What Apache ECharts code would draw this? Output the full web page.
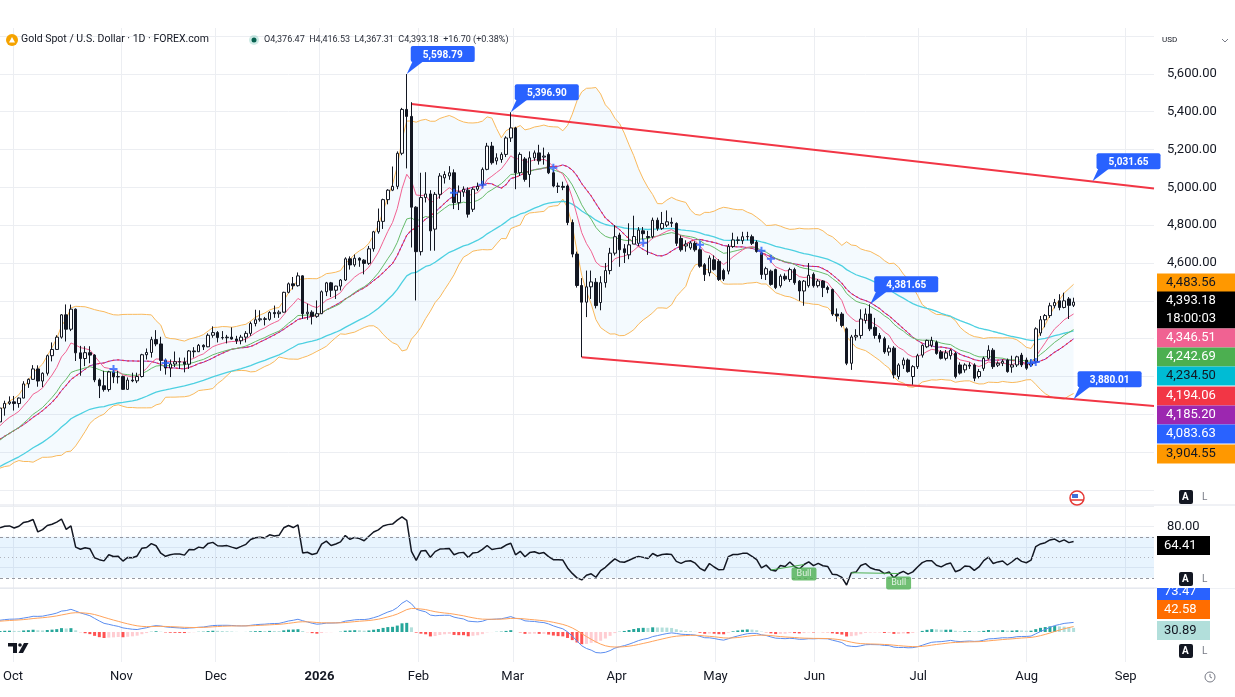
<!DOCTYPE html>
<html lang="en">
<head>
<meta charset="utf-8" />
<title>Gold Spot / U.S. Dollar - 1D</title>
<script src="https://cdn.jsdelivr.net/npm/echarts@6/dist/echarts.min.js"></script>
<style>
  html, body { margin: 0; padding: 0; background: #fff; }
  #chart { width: 1235px; height: 697px; }
</style>
</head>
<body>
<div id="chart"></div>
<script>
// ---------- data ----------
var firstDay = '2025-09-29', lastDay = '2026-09-09';
var holidays = ['2025-12-25', '2026-01-01', '2026-04-03'];
var monthNames = ['Jan', 'Feb', 'Mar', 'Apr', 'May', 'Jun', 'Jul', 'Aug', 'Sep', 'Oct', 'Nov', 'Dec'];

// closes Jul-Sep 2025, off screen, only used so the indicators are warmed up at the left edge
var warmupCloses = [3338, 3357, 3326, 3336, 3302, 3313, 3325, 3355, 3343, 3324, 3347, 3339, 3350, 3397, 3431, 3387, 3368, 3337, 3314, 3326, 3274, 3289,
  3363, 3373, 3380, 3370, 3396, 3398, 3342, 3348, 3356, 3336, 3336, 3332, 3315, 3347, 3339, 3371, 3366, 3393, 3397, 3416, 3448,
  3476, 3533, 3578, 3545, 3587, 3636, 3626, 3641, 3635, 3643, 3679, 3690, 3660, 3644, 3685, 3746, 3763, 3736, 3749, 3760];

// daily candles [open, close, low, high], Sep 29 2025 -> Aug 17 2026
var candles = [
  [3760, 3833, 3758, 3835], [3833, 3858, 3793, 3872], [3858, 3866, 3850, 3895], [3866, 3857, 3820, 3897], [3857, 3886, 3835, 3889],
  [3886, 3961, 3885, 3975], [3961, 3985, 3940, 3990], [3985, 4040, 3983, 4060], [4040, 3976, 3946, 4059], [3976, 4017, 3944, 4022],
  [4017, 4110, 4005, 4116], [4110, 4143, 4080, 4180], [4143, 4208, 4140, 4218], [4208, 4326, 4200, 4330], [4326, 4250, 4185, 4381],
  [4250, 4356, 4240, 4380], [4356, 4125, 4082, 4360], [4125, 4095, 4004, 4162], [4095, 4126, 4055, 4160], [4126, 4113, 4070, 4160],
  [4113, 3982, 3970, 4118], [3982, 3951, 3886, 3990], [3951, 3931, 3920, 4030], [3931, 4024, 3920, 4030], [4024, 3998, 3965, 4034],
  [3998, 4000, 3963, 4030], [4000, 3932, 3930, 4005], [3932, 3981, 3930, 3995], [3981, 3977, 3970, 4020], [3977, 4000, 3965, 4020],
  [4000, 4115, 3995, 4120], [4115, 4127, 4090, 4148], [4127, 4195, 4100, 4210], [4195, 4172, 4160, 4245], [4172, 4085, 4030, 4210],
  [4085, 4045, 4010, 4095], [4045, 4066, 3997, 4090], [4066, 4078, 4050, 4132], [4078, 4077, 4040, 4100], [4077, 4065, 4022, 4100],
  [4065, 4135, 4040, 4140], [4135, 4131, 4100, 4155], [4131, 4165, 4130, 4172], [4165, 4157, 4140, 4170], [4157, 4218, 4155, 4228],
  [4218, 4232, 4205, 4265], [4232, 4206, 4180, 4240], [4206, 4205, 4195, 4240], [4205, 4208, 4175, 4220], [4208, 4198, 4195, 4260],
  [4198, 4189, 4172, 4215], [4189, 4208, 4170, 4220], [4208, 4228, 4180, 4240], [4228, 4280, 4215, 4290], [4280, 4300, 4265, 4353],
  [4300, 4305, 4290, 4350], [4305, 4302, 4270, 4315], [4302, 4338, 4295, 4345], [4338, 4332, 4310, 4375], [4332, 4340, 4310, 4350],
  [4340, 4445, 4338, 4448], [4445, 4490, 4440, 4497], [4490, 4480, 4460, 4526], [4480, 4532, 4475, 4550], [4532, 4332, 4305, 4535],
  [4332, 4340, 4300, 4385], [4340, 4318, 4275, 4350], [4318, 4332, 4310, 4402], [4332, 4448, 4330, 4455], [4448, 4495, 4425, 4500],
  [4495, 4456, 4420, 4500], [4456, 4478, 4410, 4480], [4478, 4510, 4455, 4515], [4510, 4622, 4505, 4630], [4622, 4590, 4565, 4635],
  [4590, 4625, 4580, 4645], [4625, 4615, 4580, 4630], [4615, 4598, 4540, 4620], [4598, 4675, 4590, 4690], [4675, 4765, 4660, 4770],
  [4765, 4820, 4755, 4888], [4820, 4935, 4780, 4940], [4935, 4985, 4910, 4990], [4985, 5005, 4980, 5110], [5005, 5180, 4990, 5190],
  [5180, 5412, 5170, 5420], [5412, 5375, 5100, 5598.79], [5375, 4895, 4682, 5450], [4895, 4660, 4402, 4900], [4660, 4946, 4640, 5077],
  [4946, 4965, 4920, 5080], [4965, 4770, 4665, 4985], [4779, 4963, 4665, 4975], [4963, 5060, 4940, 5075], [5050, 5068, 5020, 5085],
  [5060, 5077, 5040, 5112], [5077, 4919, 4885, 5095], [4919, 4975, 4880, 5010], [4975, 4990, 4950, 5005], [4985, 4858, 4840, 5000],
  [4884, 4990, 4870, 5000], [4990, 5005, 4980, 5025], [5016, 5095, 5005, 5105], [5095, 5218, 5090, 5235], [5218, 5130, 5120, 5240],
  [5140, 5156, 5120, 5180], [5147, 5174, 5130, 5185], [5174, 5261, 5160, 5270], [5261, 5314, 5240, 5396.90], [5314, 5077, 4990, 5320],
  [5077, 5174, 5060, 5185], [5150, 5042, 5030, 5160], [5068, 5156, 5000, 5190], [5156, 5182, 5140, 5195], [5182, 5140, 5120, 5225],
  [5160, 5165, 5120, 5210], [5174, 5077, 5070, 5185], [5077, 5007, 5000, 5090], [5007, 5005, 4970, 5025], [5005, 5000, 4985, 5030],
  [5007, 4814, 4800, 5015], [4814, 4647, 4630, 4830], [4647, 4481, 4470, 4660], [4481, 4393, 4102, 4520], [4393, 4474, 4314, 4560],
  [4474, 4500, 4410, 4560], [4498, 4375, 4360, 4520], [4391, 4496, 4350, 4530], [4496, 4560, 4470, 4600], [4560, 4652, 4540, 4680],
  [4652, 4739, 4640, 4800], [4748, 4670, 4580, 4760], [4675, 4655, 4600, 4700], [4643, 4696, 4620, 4810], [4700, 4740, 4700, 4850],
  [4704, 4774, 4690, 4790], [4770, 4755, 4720, 4790], [4740, 4735, 4643, 4770], [4739, 4826, 4730, 4840], [4826, 4783, 4770, 4840],
  [4783, 4809, 4775, 4870], [4800, 4818, 4790, 4878], [4815, 4810, 4790, 4840], [4809, 4704, 4690, 4815], [4730, 4670, 4660, 4745],
  [4690, 4700, 4660, 4720], [4680, 4706, 4670, 4715], [4704, 4670, 4660, 4715], [4670, 4583, 4575, 4680], [4591, 4539, 4505, 4600],
  [4548, 4626, 4530, 4640], [4617, 4565, 4560, 4640], [4609, 4513, 4505, 4620], [4560, 4515, 4505, 4570], [4557, 4687, 4540, 4700],
  [4687, 4722, 4680, 4760], [4720, 4722, 4700, 4740], [4718, 4739, 4700, 4765], [4739, 4740, 4720, 4765], [4739, 4704, 4695, 4750],
  [4710, 4661, 4655, 4720], [4652, 4539, 4515, 4660], [4540, 4570, 4510, 4580], [4557, 4487, 4480, 4565], [4565, 4470, 4462, 4570],
  [4480, 4530, 4470, 4540], [4530, 4515, 4505, 4545], [4513, 4565, 4500, 4575], [4565, 4496, 4485, 4575], [4504, 4452, 4400, 4510],
  [4452, 4504, 4374, 4510], [4480, 4535, 4470, 4600], [4540, 4480, 4470, 4550], [4480, 4505, 4470, 4515], [4505, 4470, 4420, 4510],
  [4470, 4460, 4440, 4480], [4460, 4330, 4320, 4465], [4330, 4320, 4290, 4360], [4330, 4270, 4260, 4340], [4252, 4070, 4060, 4260],
  [4070, 4209, 4035, 4220], [4209, 4217, 4190, 4250], [4217, 4304, 4200, 4355], [4296, 4330, 4280, 4360], [4330, 4252, 4240, 4381.65],
  [4260, 4217, 4200, 4310], [4217, 4200, 4180, 4230], [4200, 4130, 4120, 4210], [4130, 4150, 4110, 4165], [4150, 4009, 3990, 4160],
  [4000, 4061, 3985, 4070], [4061, 4087, 4040, 4100], [4087, 4026, 4020, 4095], [4000, 4052, 3957, 4060], [4052, 4110, 4040, 4120],
  [4113, 4165, 4100, 4170], [4157, 4191, 4150, 4195], [4165, 4191, 4155, 4210], [4180, 4122, 4115, 4190], [4130, 4096, 4090, 4140],
  [4096, 4125, 4085, 4140], [4110, 4139, 4090, 4145], [4122, 4000, 3990, 4130], [4061, 4018, 4010, 4075], [4035, 4061, 4020, 4070],
  [4060, 4055, 4040, 4075], [4061, 3991, 3975, 4070], [4000, 4026, 3990, 4040], [4043, 4096, 4030, 4105], [4096, 4139, 4090, 4165],
  [4139, 4052, 4040, 4150], [4060, 4070, 4050, 4080], [4070, 4080, 4055, 4090], [4087, 4026, 4020, 4095], [4050, 4061, 4020, 4110],
  [4061, 4104, 4050, 4110], [4113, 4061, 4050, 4125], [4087, 4044, 4035, 4100], [4060, 4070, 4050, 4090], [4078, 4252, 4070, 4260],
  [4230, 4300, 4215, 4320], [4300, 4322, 4260, 4330], [4322, 4374, 4310, 4390], [4374, 4391, 4360, 4410], [4400, 4365, 4350, 4435],
  [4365, 4400, 4360, 4443], [4410, 4376, 4304, 4420], [4376.47, 4393.18, 4367.31, 4416.53]
];

// descending channel, [day index, price] at both ends
var channelUpper = [[87, 5440], [244, 4994]];
var channelLower = [[123, 4102], [244, 3844]];

// blue price notes
var noteIdx = [86, 108, 184, 231, 227];
var notePrice = [5598.79, 5396.90, 4381.65, 5031.65, 3880.01];
var noteText = ['5,598.79', '5,396.90', '4,381.65', '5,031.65', '3,880.01'];

// blue cross markers
var crossIdx = [24, 35, 96, 102, 117, 136, 148, 161, 163, 218, 219];
var crossPrice = [4040, 4072, 4971, 5014, 5104, 4707, 4696, 4665, 4622, 4072, 4077];

// RSI bullish divergences, [from index, to index]
var bullDiv = [[163, 170], [180, 190]];

// price-scale badges
var badgeText = ['4,483.56', '4,393.18', '4,346.51', '4,242.69', '4,234.50', '4,194.06', '4,185.20', '4,083.63', '3,904.55'];
var badgeBg = ['#ff9800', '#000000', '#f06292', '#4caf50', '#00bcd4', '#f23645', '#9c27b0', '#2962ff', '#ff9800'];
var badgeFg = ['#131722', '#ffffff', '#ffffff', '#ffffff', '#131722', '#ffffff', '#ffffff', '#ffffff', '#131722'];
var badgeY = [283, 301, 338, 357, 376, 396, 415, 434, 454];

// ---------- categories ----------
var days = [];
(function () {
  var d = new Date(firstDay + 'T00:00:00Z'), end = new Date(lastDay + 'T00:00:00Z');
  while (d <= end) {
    var s = d.toISOString().slice(0, 10), wd = d.getUTCDay();
    if (wd !== 0 && wd !== 6 && holidays.indexOf(s) < 0) days.push(s);
    d.setUTCDate(d.getUTCDate() + 1);
  }
})();
function isMonthStart(i) { return i > 0 && days[i].slice(5, 7) !== days[i - 1].slice(5, 7); }
function monthLabel(i) {
  var m = +days[i].slice(5, 7) - 1;
  return m === 0 ? '{y|' + days[i].slice(0, 4) + '}' : monthNames[m];
}

// ---------- indicators ----------
function sma(src, n) {
  var out = [], sum = 0;
  for (var i = 0; i < src.length; i++) {
    sum += src[i];
    if (i >= n) sum -= src[i - n];
    out.push(i >= n - 1 ? sum / n : null);
  }
  return out;
}
function ema(src, n) {
  var out = [], k = 2 / (n + 1), prev = null, sum = 0, cnt = 0;
  for (var i = 0; i < src.length; i++) {
    if (src[i] == null) { out.push(null); continue; }
    if (prev === null) {
      sum += src[i]; cnt++;
      if (cnt === n) prev = sum / n;
      out.push(prev);
    } else {
      prev = src[i] * k + prev * (1 - k);
      out.push(prev);
    }
  }
  return out;
}
function stdev(src, n, mean) {
  return src.map(function (v, i) {
    if (mean[i] == null) return null;
    var s = 0;
    for (var j = i - n + 1; j <= i; j++) s += (src[j] - mean[i]) * (src[j] - mean[i]);
    return Math.sqrt(s / n);
  });
}
function rsiCalc(src, n) {
  var out = [null], up = 0, dn = 0;
  for (var i = 1; i < src.length; i++) {
    var ch = src[i] - src[i - 1], g = Math.max(ch, 0), l = Math.max(-ch, 0);
    if (i <= n) { up += g / n; dn += l / n; out.push(i === n ? 100 - 100 / (1 + up / dn) : null); }
    else { up = (up * (n - 1) + g) / n; dn = (dn * (n - 1) + l) / n; out.push(dn === 0 ? 100 : 100 - 100 / (1 + up / dn)); }
  }
  return out;
}

var W = warmupCloses.length;
var closes = warmupCloses.concat(candles.map(function (c) { return c[1]; }));
function cut(a) { return a.slice(W).map(function (v) { return v == null ? null : +v.toFixed(2); }); }

var basis = sma(closes, 20), dev = stdev(closes, 20, basis);
var bbBasis = cut(basis);
var bbUpper = cut(basis.map(function (b, i) { return b == null ? null : b + 2 * dev[i]; }));
var bbLower = cut(basis.map(function (b, i) { return b == null ? null : b - 2 * dev[i]; }));
var bbWidth = bbUpper.map(function (u, i) { return +(u - bbLower[i]).toFixed(2); });
var ema9 = cut(ema(closes, 9)), ema20 = cut(ema(closes, 20)), ema50 = cut(ema(closes, 50));
var rsi = cut(rsiCalc(closes, 14));
var e12 = ema(closes, 12), e26 = ema(closes, 26);
var macdAll = e12.map(function (v, i) { return v == null || e26[i] == null ? null : v - e26[i]; });
var signalAll = ema(macdAll, 9);
var macd = cut(macdAll), signal = cut(signalAll);
var hist = macd.map(function (m, i) { return +(m - signal[i]).toFixed(2); });
var histBars = hist.map(function (h, i) {
  var p = i > 0 ? hist[i - 1] : h, c;
  if (h >= 0) c = h >= p ? '#26a69a' : '#b2dfdb';
  else c = h < p ? '#ff5252' : '#ffcdd2';
  return { value: h, itemStyle: { color: c } };
});

// ---------- chart ----------
var chart = echarts.init(document.getElementById('chart'));
var FONT = 'Roboto, "Noto Sans", sans-serif';
var gridCol = '#eceef2';
function fmt(v) { return v.toLocaleString('en-US', { minimumFractionDigits: 2, maximumFractionDigits: 2 }); }
function hiddenX(g) { return { type: 'category', gridIndex: g, data: days, boundaryGap: false, show: false }; }

var series = [
  // bollinger fill
  { type: 'line', xAxisIndex: 0, yAxisIndex: 0, data: bbLower, stack: 'bb', symbol: 'none', lineStyle: { opacity: 0 }, silent: true },
  { type: 'line', xAxisIndex: 0, yAxisIndex: 0, data: bbWidth, stack: 'bb', symbol: 'none', lineStyle: { opacity: 0 },
    areaStyle: { color: 'rgba(33,150,243,0.07)' }, silent: true },
  { type: 'line', xAxisIndex: 0, yAxisIndex: 0, data: bbUpper, symbol: 'none', lineStyle: { color: '#f9b95c', width: 1 }, silent: true },
  { type: 'line', xAxisIndex: 0, yAxisIndex: 0, data: bbLower, symbol: 'none', lineStyle: { color: '#f9b95c', width: 1 }, silent: true },
  { type: 'line', xAxisIndex: 0, yAxisIndex: 0, data: ema50, symbol: 'none', lineStyle: { color: '#4dd0e1', width: 1.3 }, silent: true },
  { type: 'line', xAxisIndex: 0, yAxisIndex: 0, data: bbBasis, symbol: 'none', lineStyle: { color: '#9c27b0', width: 1 }, silent: true },
  { type: 'line', xAxisIndex: 0, yAxisIndex: 0, data: bbBasis, symbol: 'none', lineStyle: { color: '#f23645', width: 1.2, type: [2, 3] }, silent: true },
  { type: 'line', xAxisIndex: 0, yAxisIndex: 0, data: ema20, symbol: 'none', lineStyle: { color: '#66bb6a', width: 1 }, silent: true },
  { type: 'line', xAxisIndex: 0, yAxisIndex: 0, data: ema9, symbol: 'none', lineStyle: { color: '#f06292', width: 1 }, silent: true },
  // channel
  { type: 'line', xAxisIndex: 0, yAxisIndex: 0, data: channelUpper, symbol: 'none', lineStyle: { color: '#f23645', width: 2 }, silent: true, z: 4 },
  { type: 'line', xAxisIndex: 0, yAxisIndex: 0, data: channelLower, symbol: 'none', lineStyle: { color: '#f23645', width: 2 }, silent: true, z: 4 },
  // candles
  { type: 'candlestick', xAxisIndex: 0, yAxisIndex: 0, data: candles, barWidth: 3, z: 5,
    itemStyle: { color: '#ffffff', color0: '#131722', borderColor: '#131722', borderColor0: '#131722', borderWidth: 1 } },
  // crosses
  { type: 'scatter', xAxisIndex: 0, yAxisIndex: 0, z: 6, silent: true,
    data: crossIdx.map(function (x, i) { return [x, crossPrice[i]]; }),
    symbol: 'path://M3,0H5V3H8V5H5V8H3V5H0V3H3Z', symbolSize: 8, itemStyle: { color: '#2962ff' } },
  // price notes
  { type: 'custom', xAxisIndex: 0, yAxisIndex: 0, z: 7, silent: true,
    data: noteIdx.map(function (x, i) { return [x, notePrice[i], i]; }),
    renderItem: function (params, api) {
      var pt = api.coord([api.value(0), api.value(1)]);
      var bx = pt[0] + 4, by = pt[1] - 28, bw = 64, bh = 16;
      return { type: 'group', children: [
        { type: 'polygon', shape: { points: [[pt[0], pt[1]], [bx + 2, by + bh - 1], [bx + 13, by + bh - 1]] }, style: { fill: '#2962ff' } },
        { type: 'rect', shape: { x: bx, y: by, width: bw, height: bh, r: 2 }, style: { fill: '#2962ff' } },
        { type: 'text', style: { x: bx + bw / 2, y: by + bh / 2 + 1, text: noteText[api.value(2)], fill: '#ffffff',
          font: 'bold 10px ' + FONT, align: 'center', verticalAlign: 'middle' } }
      ] };
    } },
  // RSI
  { type: 'line', xAxisIndex: 1, yAxisIndex: 1, data: rsi, symbol: 'none', lineStyle: { color: '#131722', width: 1.5 }, silent: true, z: 4,
    markArea: { silent: true, itemStyle: { color: 'rgba(33,150,243,0.1)' }, data: [[{ yAxis: 30 }, { yAxis: 70 }]] },
    markLine: { silent: true, symbol: 'none', label: { show: false },
      data: [{ yAxis: 70, lineStyle: { color: '#9598a1', type: [3, 3], width: 1 } },
             { yAxis: 50, lineStyle: { color: '#b2b5be', type: [1, 3], width: 1 } },
             { yAxis: 30, lineStyle: { color: '#9598a1', type: [3, 3], width: 1 } }] } }
];
bullDiv.forEach(function (p) {
  series.push({ type: 'line', xAxisIndex: 1, yAxisIndex: 1, symbol: 'none', silent: true, z: 5,
    data: [[p[0], rsi[p[0]]], [p[1], rsi[p[1]]]], lineStyle: { color: '#4caf50', width: 1.2 } });
  series.push({ type: 'scatter', xAxisIndex: 1, yAxisIndex: 1, silent: true, z: 6, symbolSize: 0,
    data: [[p[1], rsi[p[1]]]],
    label: { show: true, formatter: 'Bull', position: 'bottom', distance: 3, color: '#ffffff', fontSize: 9, fontFamily: FONT,
      backgroundColor: '#4caf50', padding: [2, 5], borderRadius: 2 } });
});
series.push(
  { type: 'bar', xAxisIndex: 2, yAxisIndex: 2, data: histBars, barWidth: 3, silent: true },
  { type: 'line', xAxisIndex: 2, yAxisIndex: 2, data: macd, symbol: 'none', lineStyle: { color: '#5b8def', width: 1 }, silent: true },
  { type: 'line', xAxisIndex: 2, yAxisIndex: 2, data: signal, symbol: 'none', lineStyle: { color: '#ffa35c', width: 1 }, silent: true }
);

// right side badges and decorations
var graphics = [];
badgeText.forEach(function (t, i) {
  var h = i === 1 ? 37 : 19, top = badgeY[i] - 9.5;
  graphics.push({ type: 'rect', left: 1157, top: top, shape: { width: 78, height: h }, style: { fill: badgeBg[i] }, z: 100 });
  graphics.push({ type: 'text', left: 1166, top: top + 3, style: { text: t, fill: badgeFg[i], font: '13px ' + FONT }, z: 101 });
  if (i === 1) graphics.push({ type: 'text', left: 1166, top: top + 21, style: { text: '18:00:03', fill: '#ffffff', font: '13px ' + FONT }, z: 101 });
});
// rsi value
graphics.push({ type: 'rect', left: 1157, top: 536, shape: { width: 53, height: 19 }, style: { fill: '#000000' }, z: 100 });
graphics.push({ type: 'text', left: 1164, top: 539, style: { text: '64.41', fill: '#ffffff', font: '13px ' + FONT }, z: 101 });
// macd values
graphics.push({ type: 'rect', left: 1157, top: 584, shape: { width: 53, height: 16 }, style: { fill: '#2962ff' }, z: 100 });
graphics.push({ type: 'text', left: 1164, top: 585, style: { text: '73.47', fill: '#ffffff', font: '13px ' + FONT }, z: 101 });
graphics.push({ type: 'rect', left: 1157, top: 570, shape: { width: 78, height: 18 }, style: { fill: '#ffffff' }, z: 102 });
graphics.push({ type: 'rect', left: 1157, top: 600, shape: { width: 53, height: 19 }, style: { fill: '#ff6d00' }, z: 100 });
graphics.push({ type: 'text', left: 1164, top: 603, style: { text: '42.58', fill: '#ffffff', font: '13px ' + FONT }, z: 101 });
graphics.push({ type: 'rect', left: 1157, top: 621, shape: { width: 53, height: 19 }, style: { fill: '#b2dfdb' }, z: 100 });
graphics.push({ type: 'text', left: 1164, top: 624, style: { text: '30.89', fill: '#131722', font: '13px ' + FONT }, z: 101 });
// pane separators
[505, 588].forEach(function (y) {
  graphics.push({ type: 'line', shape: { x1: 0, y1: y, x2: 1235, y2: y }, style: { stroke: '#e0e3eb', lineWidth: 1 }, z: 1 });
});
// A / L buttons
[497, 579, 651].forEach(function (y) {
  graphics.push({ type: 'rect', left: 1179, top: y - 7, shape: { width: 14, height: 14, r: 2 }, style: { fill: '#131722' }, z: 103 });
  graphics.push({ type: 'text', left: 1182, top: y - 5, style: { text: 'A', fill: '#ffffff', font: 'bold 10px ' + FONT }, z: 104 });
  graphics.push({ type: 'text', left: 1202, top: y - 5, style: { text: 'L', fill: '#787b86', font: '10px ' + FONT }, z: 104 });
});
// header
graphics.push({ type: 'circle', shape: { cx: 12, cy: 40, r: 6 }, style: { fill: '#f5a300' }, z: 100 });
graphics.push({ type: 'polygon', shape: { points: [[9, 42.5], [12, 37], [15, 42.5]] }, style: { fill: '#ffffff' }, z: 101 });
graphics.push({ type: 'text', left: 21, top: 34, style: { text: 'Gold Spot / U.S. Dollar \u00b7 1D \u00b7 FOREX.com', fill: '#131722', font: '10.5px ' + FONT }, z: 100 });
graphics.push({ type: 'circle', shape: { cx: 254, cy: 40, r: 5 }, style: { fill: 'rgba(8,153,129,0.2)' }, z: 100 });
graphics.push({ type: 'circle', shape: { cx: 254, cy: 40, r: 2.5 }, style: { fill: '#06614f' }, z: 101 });
graphics.push({ type: 'text', left: 264, top: 35, style: { text: 'O4,376.47  H4,416.53  L4,367.31  C4,393.18  +16.70 (+0.38%)', fill: '#2a2e39', font: '9px ' + FONT }, z: 100 });
graphics.push({ type: 'text', left: 1162, top: 36, style: { text: 'USD', fill: '#131722', font: '8px ' + FONT }, z: 100 });
graphics.push({ type: 'polyline', shape: { points: [[1222, 39], [1225, 42], [1228, 39]] }, style: { stroke: '#787b86', lineWidth: 1, fill: null }, z: 100 });
// flag, clock, logo
graphics.push({ type: 'circle', shape: { cx: 1077, cy: 498, r: 7 }, style: { fill: '#ffffff', stroke: '#e53935', lineWidth: 1.5 }, z: 100 });
graphics.push({ type: 'line', shape: { x1: 1071, y1: 500, x2: 1083, y2: 500 }, style: { stroke: '#e53935', lineWidth: 1.5 }, z: 101 });
graphics.push({ type: 'rect', left: 1072, top: 494, shape: { width: 6, height: 4 }, style: { fill: '#3f6fd8' }, z: 101 });
graphics.push({ type: 'circle', shape: { cx: 1210, cy: 677, r: 5 }, style: { fill: null, stroke: '#787b86', lineWidth: 1 }, z: 100 });
graphics.push({ type: 'polyline', shape: { points: [[1210, 674], [1210, 677], [1212, 678]] }, style: { stroke: '#787b86', lineWidth: 1, fill: null }, z: 100 });
graphics.push({ type: 'polygon', shape: { points: [[8, 643], [17, 643], [17, 653], [13, 653], [13, 646.5], [8, 646.5]] }, style: { fill: '#131722' }, z: 100 });
graphics.push({ type: 'circle', shape: { cx: 20, cy: 645, r: 1.8 }, style: { fill: '#131722' }, z: 100 });
graphics.push({ type: 'polygon', shape: { points: [[24, 643], [28.5, 643], [23, 653], [18.5, 653]] }, style: { fill: '#131722' }, z: 100 });

chart.setOption({
  animation: false,
  backgroundColor: '#ffffff',
  textStyle: { fontFamily: FONT },
  grid: [
    { left: 0, right: 81, top: 36, height: 454 },
    { left: 0, right: 81, top: 506, height: 82 },
    { left: 0, right: 81, top: 590, height: 70 },
    { left: 0, right: 81, top: 28, bottom: 35 }
  ],
  xAxis: [hiddenX(0), hiddenX(1), hiddenX(2), {
    type: 'category', gridIndex: 3, data: days, boundaryGap: false,
    axisLine: { show: false }, axisTick: { show: false },
    splitLine: { show: true, interval: function (i) { return isMonthStart(i); }, lineStyle: { color: gridCol } },
    axisLabel: { interval: function (i) { return isMonthStart(i); }, formatter: function (v, i) { return monthLabel(i); },
      color: '#131722', fontSize: 13, margin: 8, rich: { y: { fontWeight: 'bold', fontSize: 13, color: '#131722' } } }
  }],
  yAxis: [
    { type: 'value', gridIndex: 0, position: 'right', min: 3400, max: 5800, interval: 200,
      axisLine: { show: false }, axisTick: { show: false },
      splitLine: { lineStyle: { color: gridCol } },
      axisLabel: { margin: 13, color: '#131722', fontSize: 13, formatter: function (v) { return v >= 4600 && v <= 5600 ? fmt(v) : ''; } } },
    { type: 'value', gridIndex: 1, position: 'right', min: 20, max: 100, interval: 20,
      axisLine: { show: false }, axisTick: { show: false },
      splitLine: { lineStyle: { color: gridCol } },
      axisLabel: { margin: 13, color: '#131722', fontSize: 13, formatter: function (v) { return v === 80 ? '80.00' : ''; } } },
    { type: 'value', gridIndex: 2, position: 'right', min: -210, max: 315,
      axisLine: { show: false }, axisTick: { show: false }, axisLabel: { show: false }, splitLine: { show: false } },
    { type: 'value', gridIndex: 3, min: 0, max: 1, show: false }
  ],
  series: series,
  graphic: graphics
});
</script>
</body>
</html>
